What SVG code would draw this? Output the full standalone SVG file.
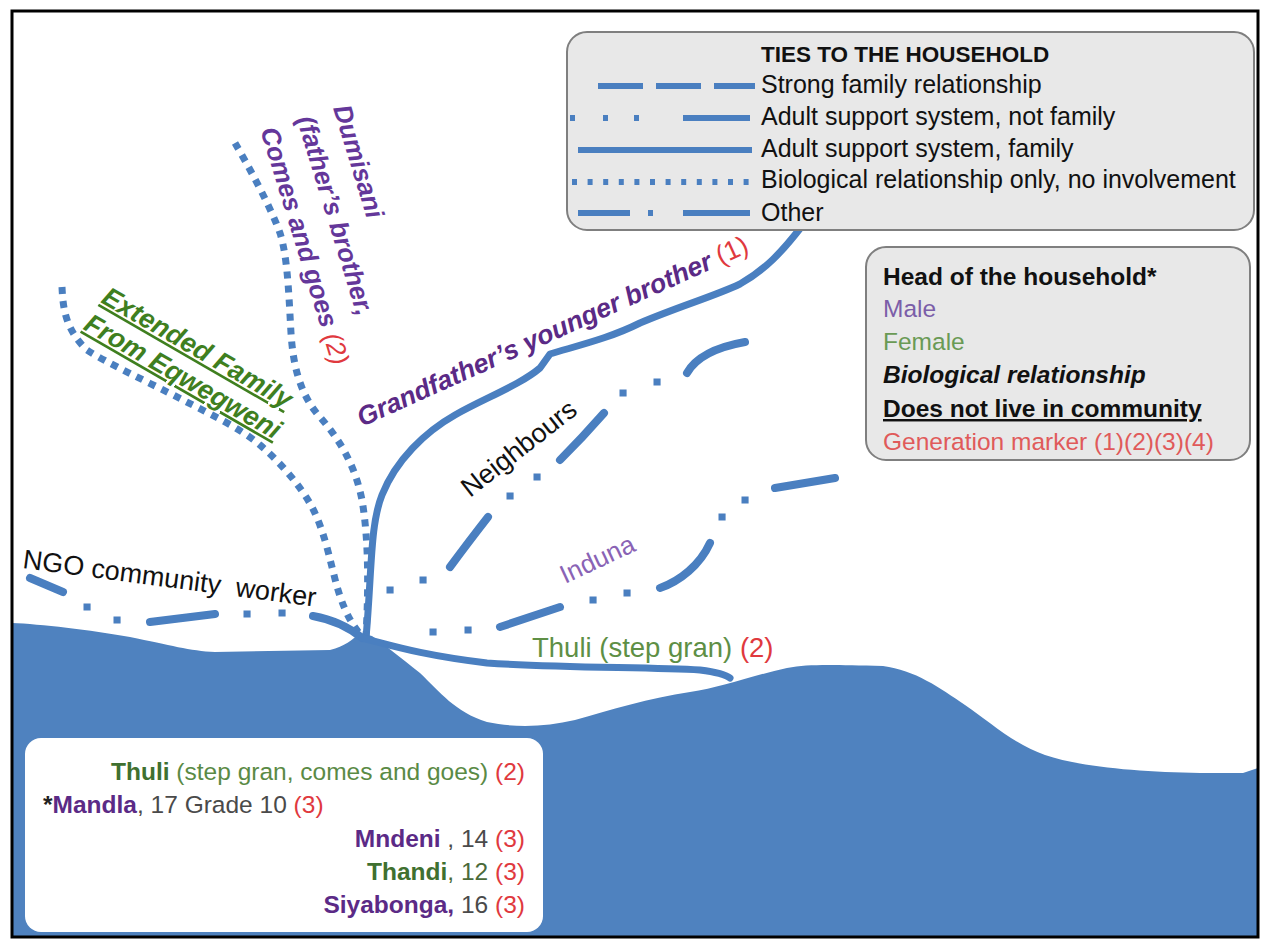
<svg xmlns="http://www.w3.org/2000/svg" width="1264" height="939" viewBox="0 0 1264 939">
<defs>
<style>
text{font-family:"Liberation Sans",Arial,sans-serif;}
.tie{fill:none;stroke:#4a7fc0;stroke-linejoin:round;}
.solid{stroke-width:7;stroke-linecap:round;}
.dotted{stroke-width:7;stroke-dasharray:7 7;stroke-linecap:butt;}
.dash{stroke-width:8;stroke-linecap:round;}
.dots{stroke-width:7;stroke-linecap:square;}
.box{fill:#e8e8e8;stroke:#7f7f7f;stroke-width:2;}
.leg{font-size:25px;fill:#111;}
.key{font-size:24.5px;}
.hh{font-size:24.5px;}
.red{fill:#e0393e;}
.purple{fill:#5b2a86;}
.gray{fill:#4a4a4a;}
.sample{fill:none;stroke:#4a7fc0;stroke-width:6;}
</style>
</defs>
<rect x="0" y="0" width="1264" height="939" fill="#ffffff"/>

<g id="terrain">
<path fill="#4f82bf" d="M12,623 C40,624 90,630 130,637 C170,645 190,651 215,652 L330,650 C345,646 352,640 360,633 L372,636 C385,645 400,657 420,673 C440,692 455,712 487,722 C515,728 545,727 575,720 C610,710 650,698 690,692 C720,688 750,676 787,668 C810,664 830,665 883,666 C915,670 940,688 965,705 C990,722 1015,745 1045,755 C1080,767 1140,772 1200,773 L1243,773 L1258,768 L1258,937 L12,937 Z"/>
</g>

<g id="connectors">
<g id="c-grandfather"><path class="tie solid" d="M366,638 C372,570 370,525 382,495 C396,460 425,432 455,415 C485,398 520,385 540,368 L550,354 C580,345 610,338 640,323 C680,306 715,296 740,284 C765,270 782,252 802,226"/></g>
<g id="c-dumisani"><path class="tie dotted" d="M235,143 C245,160 270,205 280,233 C288,258 289,300 291,333 C293,365 300,395 320,417 C340,440 355,465 362,500 C368,535 369,580 366,636"/></g>
<g id="c-extended"><path class="tie dotted" d="M62,287 C63,310 66,330 87,350 C105,362 150,383 183,400 C210,414 240,428 260,445 C280,462 300,485 312,507 C324,530 330,560 334,575 C340,600 348,620 360,634"/></g>
<g id="c-neighbours">
<path class="tie dash" d="M450,567 Q470,540 488,517 M560,460 Q583,437 604,413 M687,373 Q700,350 745,342"/>
<path class="tie dots" d="M390,590h.1 M423,580h.1 M510,496h.1 M537,477h.1 M623,393h.1 M657,382h.1"/>
</g>
<g id="c-induna">
<path class="tie dash" d="M500,627 L560,607 M660,588 C680,581 700,565 710,543 M775,488 L835,478"/>
<path class="tie dots" d="M433,632h.1 M468,630h.1 M593,600h.1 M627,593h.1 M722,517h.1 M745,500h.1"/>
</g>
<g id="c-ngo">
<path class="tie dash" d="M30,578 L63,592 M150,622 L215,614 M313,616 C335,620 350,628 362,638"/>
<path class="tie dots" d="M87,607h.1 M117,620h.1 M247,614h.1 M282,613h.1"/>
</g>
<g id="c-thuli"><path class="tie solid" d="M362,638 C390,645 420,655 487,663 C560,668 650,667 700,670 C715,672 725,674 730,678"/></g>
</g>

<g id="legend-ties">
<rect class="box" x="567" y="32" width="687" height="198" rx="20"/>
<text x="761" y="62" font-size="22.5" font-weight="bold" fill="#111">TIES TO THE HOUSEHOLD</text>
<line class="sample" x1="598" y1="86" x2="755" y2="86" stroke-dasharray="45 13"/>
<text class="leg" x="761" y="93">Strong family relationship</text>
<path class="sample" d="M570,118h5 M603,118h5 M634,118h5 M683,118h67"/>
<text class="leg" x="761" y="125">Adult support system, not family</text>
<line class="sample" x1="578" y1="150" x2="752" y2="150"/>
<text class="leg" x="761" y="157">Adult support system, family</text>
<line class="sample" x1="572" y1="182" x2="754" y2="182" stroke-dasharray="5 10.6"/>
<text class="leg" x="761" y="188">Biological relationship only, no involvement</text>
<path class="sample" d="M578,213h52 M648,213h5 M683,213h67"/>
<text class="leg" x="761" y="221">Other</text>
</g>

<g id="legend-key">
<rect class="box" x="866" y="247" width="384" height="213" rx="20"/>
<text class="key" x="883" y="285" font-weight="bold" fill="#111">Head of the household*</text>
<text class="key" x="883" y="317" fill="#7b5ea8">Male</text>
<text class="key" x="883" y="350" fill="#6a9a55">Female</text>
<text class="key" x="883" y="383" font-weight="bold" font-style="italic" fill="#111">Biological relationship</text>
<text class="key" x="883" y="417" font-weight="bold" text-decoration="underline" fill="#111">Does not live in community</text>
<text class="key" x="883" y="450" fill="#e05a5a">Generation marker (1)(2)(3)(4)</text>
</g>

<g id="household">
<rect x="25" y="738" width="518" height="194" rx="16" fill="#ffffff"/>
<text class="hh" x="525" y="780" text-anchor="end"><tspan font-weight="bold" fill="#3f7030">Thuli</tspan><tspan fill="#5a8a45"> (step gran, comes and goes) </tspan><tspan class="red">(2)</tspan></text>
<text class="hh" x="43" y="813"><tspan font-weight="bold" fill="#222">*</tspan><tspan font-weight="bold" class="purple">Mandla</tspan><tspan class="gray">, 17 Grade 10 </tspan><tspan class="red">(3)</tspan></text>
<text class="hh" x="525" y="847" text-anchor="end"><tspan font-weight="bold" class="purple">Mndeni</tspan><tspan class="gray"> , 14 </tspan><tspan class="red">(3)</tspan></text>
<text class="hh" x="525" y="880" text-anchor="end"><tspan font-weight="bold" fill="#3f7030">Thandi</tspan><tspan fill="#4a6a3a">, 12 </tspan><tspan class="red">(3)</tspan></text>
<text class="hh" x="525" y="913" text-anchor="end"><tspan font-weight="bold" class="purple">Siyabonga,</tspan><tspan class="gray"> 16 </tspan><tspan class="red">(3)</tspan></text>
</g>

<g id="n-grandfather">
<text transform="translate(362,427) rotate(-24.3)" font-size="26.5"><tspan font-weight="bold" font-style="italic" fill="#5b2a86">Grandfather’s younger brother</tspan><tspan class="red"> (1)</tspan></text>
</g>
<g id="n-dumisani">
<text transform="translate(333,108) rotate(73)" font-size="26" font-weight="bold" font-style="italic" fill="#64379a"><tspan x="0" y="0">Dumisani</tspan><tspan x="0" dy="38">(father’s brother,</tspan><tspan x="0" dy="38">Comes and goes <tspan class="red" font-weight="normal">(2)</tspan></tspan></text>
</g>
<g id="n-extended">
<text transform="translate(100,302) rotate(30)" font-size="27" font-weight="bold" font-style="italic" fill="#3f7f1f" text-decoration="underline"><tspan x="0" y="0">Extended Family</tspan><tspan x="-2" dy="32">From Eqwegweni</tspan></text>
</g>
<g id="n-neighbours">
<text transform="translate(470,498) rotate(-38)" font-size="27" fill="#111">Neighbours</text>
</g>
<g id="n-induna">
<text transform="translate(565,584) rotate(-25)" font-size="26" fill="#8a63b5">Induna</text>
</g>
<g id="n-ngo">
<text transform="translate(22,568) rotate(7.5)" font-size="27" fill="#111" xml:space="preserve">NGO community  worker</text>
</g>
<g id="n-thuli">
<text x="532" y="657" font-size="27.5"><tspan fill="#5e8f45">Thuli (step gran) </tspan><tspan class="red">(2)</tspan></text>
</g>

<rect x="12" y="11" width="1246" height="926" fill="none" stroke="#000" stroke-width="3"/>
</svg>
